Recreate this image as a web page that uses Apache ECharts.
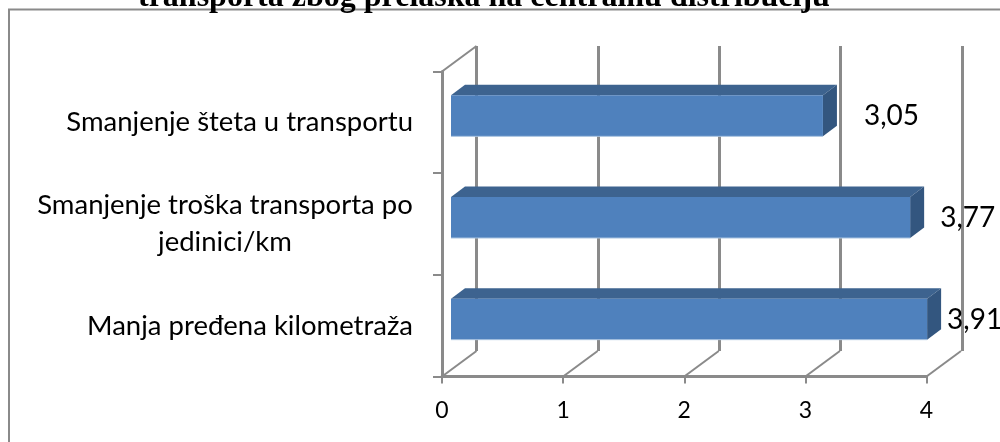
<!DOCTYPE html>
<html>
<head>
<meta charset="utf-8">
<style>html,body{margin:0;padding:0;background:#fff}#c{width:1000px;height:442px}</style>
<script src="https://cdn.jsdelivr.net/npm/echarts@6/dist/echarts.min.js"></script>
</head>
<body>
<div id="c"></div>
<script>
const titleText = 'transporta zbog prelaska na centralnu distribuciju';
const categories = ['Manja pređena kilometraža', 'Smanjenje troška transporta po\njedinici/km', 'Smanjenje šteta u transportu'];
const values = [3.91, 3.77, 3.05];
const xTicks = [0, 1, 2, 3, 4];

const GREY = '#8A8A8A';
const DEPTH = [34.5, -25.5];
const labelFont = 'Lato, Carlito, "Open Sans", sans-serif';
const chart = echarts.init(document.getElementById('c'), null, {renderer: 'canvas'});

function barItem(params, api) {
  const v = api.value(0), cat = api.value(1);
  const start = api.coord([0, cat]);
  const end = api.coord([v, cat]);
  const x0 = start[0] + 9, x1 = end[0] + 11.5;
  const yBottom = start[1] + 14, yTop = yBottom - 41;
  const dx = 14, dy = -10.5;
  const gaps = [6, 16, 27];
  const p = (a, b) => ({type: 'polygon', shape: {points: a}, style: {fill: b}});
  return {type: 'group', children: [
    p([[x0, yTop], [x0 + dx, yTop + dy], [x1 + dx, yTop + dy], [x1, yTop]], '#3D638F'),
    p([[x1, yTop], [x1 + dx, yTop + dy], [x1 + dx, yBottom + dy], [x1, yBottom]], '#33567F'),
    p([[x0, yTop], [x1, yTop], [x1, yBottom], [x0, yBottom]], '#4F81BD'),
    {type: 'line', shape: {x1: x0, y1: yBottom, x2: x1, y2: yBottom}, style: {stroke: '#A9C3E0', lineWidth: 1}},
    {type: 'text', z2: 10, style: {
      x: x1 + dx + gaps[params.dataIndex], y: yTop + 21,
      text: String(v).replace('.', ','),
      fill: '#000', font: '28px ' + labelFont, textAlign: 'left', textVerticalAlign: 'middle'
    }}
  ]};
}

function depthItem(params, api) {
  const t = api.value(0);
  const base = api.coord([t, 0]);
  const y = base[1] + api.size([0, 1])[1] / 2;
  return {type: 'line', shape: {x1: base[0], y1: y, x2: base[0] + DEPTH[0], y2: y + DEPTH[1]},
    style: {stroke: GREY, lineWidth: 2}};
}

function topEdgeItem(params, api) {
  const base = api.coord([0, 2]);
  const y = base[1] - api.size([0, 1])[1] / 2;
  return {type: 'line', shape: {x1: base[0], y1: y, x2: base[0] + DEPTH[0], y2: y + DEPTH[1]},
    style: {stroke: GREY, lineWidth: 2}};
}

chart.setOption({
  animation: false,
  backgroundColor: '#fff',
  title: {
    text: titleText, left: 133, top: -23,
    textStyle: {fontFamily: '"Liberation Serif", serif', fontWeight: 'bold', fontSize: 32, color: '#000'}
  },
  graphic: [{type: 'rect', z: -1, shape: {x: 9, y: 9.5, width: 1200, height: 600},
    style: {fill: 'none', stroke: GREY, lineWidth: 2}}],
  grid: [
    {left: 442, top: 71.5, width: 484.5, height: 305},
    {left: 476.5, top: 46, width: 485.5, height: 305}
  ],
  xAxis: [
    {type: 'value', gridIndex: 0, min: 0, max: 4, interval: 1, position: 'bottom',
      axisLine: {show: true, lineStyle: {color: GREY, width: 3}},
      axisTick: {show: true, length: 7, lineStyle: {color: GREY, width: 2}},
      axisLabel: {fontFamily: labelFont, fontSize: 23, color: '#000', margin: 23,
        formatter: (v) => String(xTicks[v])},
      splitLine: {show: false}},
    {type: 'value', gridIndex: 1, min: 0, max: 4, interval: 1,
      axisLine: {show: false}, axisTick: {show: false}, axisLabel: {show: false},
      splitLine: {show: true, lineStyle: {color: GREY, width: 3}}}
  ],
  yAxis: [
    {type: 'category', gridIndex: 0, data: categories,
      axisLine: {show: true, lineStyle: {color: GREY, width: 3}},
      axisTick: {show: true, length: 9, alignWithLabel: false, lineStyle: {color: GREY, width: 2}},
      axisLabel: {
        margin: 29, color: '#000', fontFamily: labelFont, fontSize: 27.5, lineHeight: 37,
        formatter: (s) => {
          const parts = s.split('\n');
          return parts.length > 1 ? parts.map(l => '{w|' + l + '}').join('\n') : s;
        },
        rich: {w: {width: 376, align: 'center', fontFamily: labelFont, fontSize: 27.5, lineHeight: 37, color: '#000'}}
      },
      splitLine: {show: false}},
    {type: 'category', gridIndex: 1, data: categories, show: false}
  ],
  series: [
    {type: 'custom', name: 'depth', xAxisIndex: 0, yAxisIndex: 0, z: 1, silent: true,
      data: xTicks.map(t => [t]), encode: {x: 0}, renderItem: depthItem, clip: false},
    {type: 'custom', name: 'topEdge', xAxisIndex: 0, yAxisIndex: 0, z: 1, silent: true,
      data: [[0]], encode: {x: 0}, renderItem: topEdgeItem, clip: false},
    {type: 'custom', name: 'bars', xAxisIndex: 0, yAxisIndex: 0, z: 3,
      data: values.map((v, i) => [v, i]), encode: {x: 0, y: 1}, renderItem: barItem, clip: false}
  ]
});
</script>
</body>
</html>
